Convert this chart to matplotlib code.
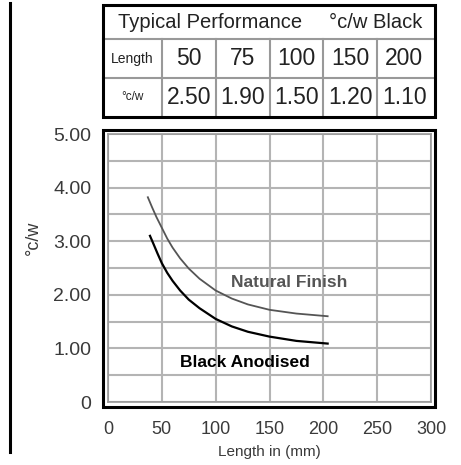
import numpy as np
import matplotlib.pyplot as plt
from matplotlib.patches import Rectangle
from matplotlib.lines import Line2D

W, H = 461, 465

# table values (black anodised)
lengths = [50, 75, 100, 150, 200]
black_table = [2.50, 1.90, 1.50, 1.20, 1.10]

# curves
black_x = [39, 42, 46, 50, 55, 60, 67, 75, 85, 100, 115, 130, 150, 175, 204]
black_y = [3.10, 2.96, 2.77, 2.59, 2.41, 2.26, 2.08, 1.91, 1.75, 1.55, 1.41, 1.31, 1.22, 1.14, 1.09]
natural_x = [37, 41, 45, 50, 55, 60, 67, 75, 85, 100, 115, 130, 150, 175, 204]
natural_y = [3.82, 3.63, 3.45, 3.25, 3.05, 2.88, 2.68, 2.49, 2.30, 2.08, 1.93, 1.82, 1.72, 1.65, 1.60]

x_ticks = [0, 50, 100, 150, 200, 250, 300]
y_ticks = [0, 1, 2, 3, 4, 5]
y_tick_labels = ["0", "1.00", "2.00", "3.00", "4.00", "5.00"]

plt.rcParams['font.family'] = ["Liberation Sans", "DejaVu Sans"]


def px_axes(fig, x0, y0, x1, y1):
    return fig.add_axes([x0 / W, 1 - y1 / H, (x1 - x0) / W, (y1 - y0) / H])


def px_frame(fig, x0, y0, x1, y1, lw=2.2):
    fig.add_artist(Rectangle((x0 / W, 1 - y1 / H), (x1 - x0) / W, (y1 - y0) / H,
                             transform=fig.transFigure, fill=False,
                             edgecolor="black", lw=lw))


fig = plt.figure(figsize=(W / 100, H / 100), dpi=100)
fig.patch.set_facecolor("white")

# page rule on the left
fig.add_artist(Line2D([10 / W, 10 / W], [1 - 3 / H, 1 - 452 / H], lw=2.2, color="black"))

# ---- main plot ----
ax = px_axes(fig, 108, 134, 431, 402)
ax.set_xlim(0, 300)
ax.set_ylim(0, 5)
ax.set_xticks(x_ticks)
ax.set_yticks(y_ticks)
ax.set_yticklabels(y_tick_labels)
ax.set_yticks(np.arange(0, 5.01, 0.5), minor=True)
ax.grid(which="both", color="#b4b4b4", lw=1.5)
ax.set_axisbelow(True)
ax.tick_params(which="both", length=0, labelcolor="#3a3a3a")
ax.tick_params(axis="y", pad=12, labelsize=14)
ax.tick_params(axis="x", pad=14, labelsize=13)
for s in ax.spines.values():
    s.set_color("#999999")
    s.set_linewidth(1.2)

ax.plot(natural_x, natural_y, color="#555555", lw=1.3, solid_joinstyle="round")
ax.plot(black_x, black_y, color="black", lw=1.6, solid_joinstyle="round")
ax.text(168, 2.23, "Natural Finish", ha="center", va="center",
        fontsize=12.5, fontweight="bold", color="#555555")
ax.text(127, 0.745, "Black Anodised", ha="center", va="center",
        fontsize=12.5, fontweight="bold", color="black")

px_frame(fig, 103, 130, 435, 407)

fig.text(33 / W, 1 - 238 / H, "°c/w", rotation=90, ha="center", va="center",
         fontsize=13, color="#3a3a3a")
fig.text(269 / W, 1 - 452 / H, "Length in (mm)", ha="center", va="center",
         fontsize=11, color="#3a3a3a")

# ---- table ----
tx = px_axes(fig, 108, 5, 431, 117)
tx.set_xlim(0, 300)
tx.set_ylim(112, 0)
tx.axis("off")
left = -5 / 1.08
right = 300 + 4 / 1.08
for yy in [34, 73]:
    tx.plot([left, right], [yy, yy], color="#999999", lw=1.5, clip_on=False)
for xx in [50, 100, 150, 200, 250]:
    tx.plot([xx, xx], [34, 112], color="#999999", lw=1.5, clip_on=False)
px_frame(fig, 103, 5, 435, 117)

tx.text(9, 17, "Typical Performance", ha="left", va="center", fontsize=14.5, color="#222222")
tx.text(292, 17, "°c/w Black", ha="right", va="center", fontsize=14.5, color="#222222")
tx.text((left + 50) / 2, 53.5, "Length", ha="center", va="center", fontsize=10, color="#222222")
tx.text((left + 50) / 2, 92.5, "°c/w", ha="center", va="center", fontsize=8.5, color="#222222")
for i, (L, v) in enumerate(zip(lengths, black_table)):
    cx = 75 + 50 * i
    tx.text(cx, 53.5, f"{L}", ha="center", va="center", fontsize=16.5, color="#222222")
    tx.text(cx, 92.5, f"{v:.2f}", ha="center", va="center", fontsize=16.5, color="#222222")

fig.savefig("out.png", dpi=100)
